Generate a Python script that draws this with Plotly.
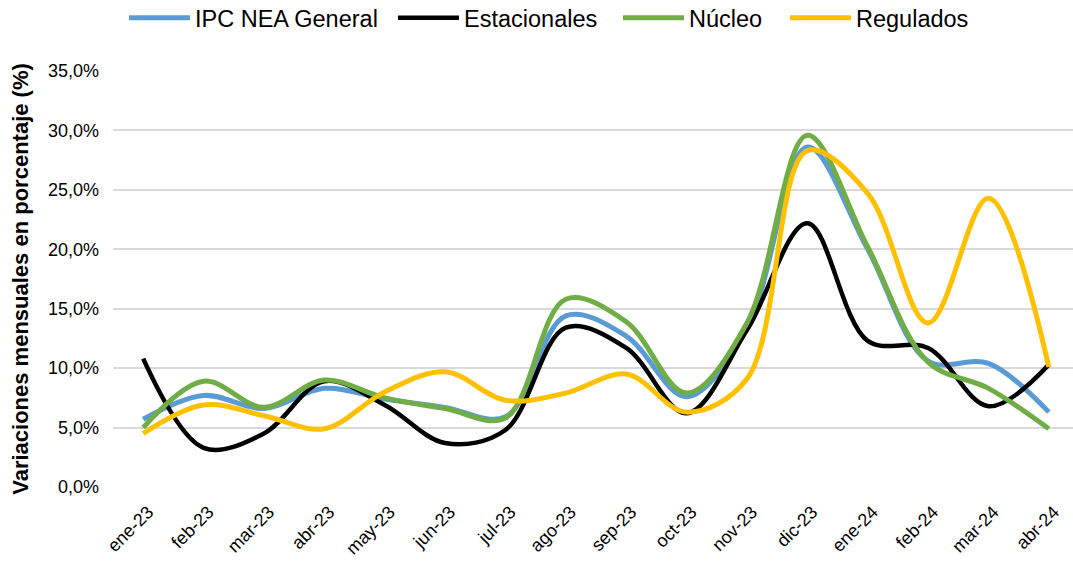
import plotly.graph_objects as go

months = ["ene-23", "feb-23", "mar-23", "abr-23", "may-23", "jun-23", "jul-23", "ago-23",
          "sep-23", "oct-23", "nov-23", "dic-23", "ene-24", "feb-24", "mar-24", "abr-24"]

ipc_general = [5.7, 7.7, 6.6, 8.3, 7.4, 6.7, 5.9, 14.4, 12.7, 7.6, 13.4, 28.6, 20.0, 10.6, 10.4, 6.3]
estacionales = [10.8, 3.3, 4.5, 8.9, 6.9, 3.7, 4.8, 13.4, 11.7, 6.2, 13.2, 22.2, 12.3, 11.7, 6.8, 10.3]
nucleo = [5.0, 8.9, 6.7, 9.0, 7.5, 6.6, 5.8, 15.8, 13.9, 7.9, 13.8, 29.6, 20.2, 10.5, 8.3, 4.9]
regulados = [4.5, 6.9, 6.0, 4.9, 8.0, 9.7, 7.3, 7.9, 9.5, 6.3, 9.1, 28.3, 24.7, 13.8, 24.3, 10.1]

series = [
    ("IPC NEA General", ipc_general, "#5B9BD5", 5, 193),
    ("Estacionales", estacionales, "#000000", 4.5, 149),
    ("Núcleo", nucleo, "#70AD47", 5, 91),
    ("Regulados", regulados, "#FFC000", 5, 110),
]

fig = go.Figure()
for name, vals, color, w, lw in series:
    fig.add_trace(go.Scatter(
        x=months, y=vals, name=name, mode="lines", legendwidth=lw,
        line=dict(color=color, width=w, shape="spline", smoothing=1.0),
    ))

fig.update_layout(
    width=1073, height=569,
    margin=dict(l=113, r=0, t=71, b=82),
    plot_bgcolor="white", paper_bgcolor="white",
    separators=",.",
    font=dict(family="Liberation Sans, Arial, sans-serif", color="#000000"),
    legend=dict(
        orientation="h", x=(134 - 10 - 113) / 960, xanchor="left",
        yref="container", y=1 - 18 / 569, yanchor="middle",
        font=dict(family="Liberation Sans, Arial, sans-serif", size=23.5, color="#000"),
        itemwidth=61, tracegroupgap=0,
    ),
    xaxis=dict(
        type="category", range=[-0.5, 15.4], automargin=False,
        tickangle=-45, tickfont=dict(size=18, color="#000"),
        showgrid=False, showline=False, ticks="", zeroline=False,
        ticklabelstandoff=10, ticklabelshift=5,
    ),
    yaxis=dict(
        range=[0, 35], dtick=5, tickformat=".1f", ticksuffix="%", automargin=False,
        tickfont=dict(size=18, color="#000"),
        showgrid=True, gridcolor="#D9D9D9", gridwidth=1.5,
        zeroline=False, showline=False, ticks="", ticklabelstandoff=13,
        title=dict(text="<b>Variaciones mensuales en porcentaje (%)</b>",
                   font=dict(size=22, color="#000"), standoff=13),
    ),
)

fig.write_html("out.html", config={"displayModeBar": False},
               post_script="document.body.style.margin='0';")
